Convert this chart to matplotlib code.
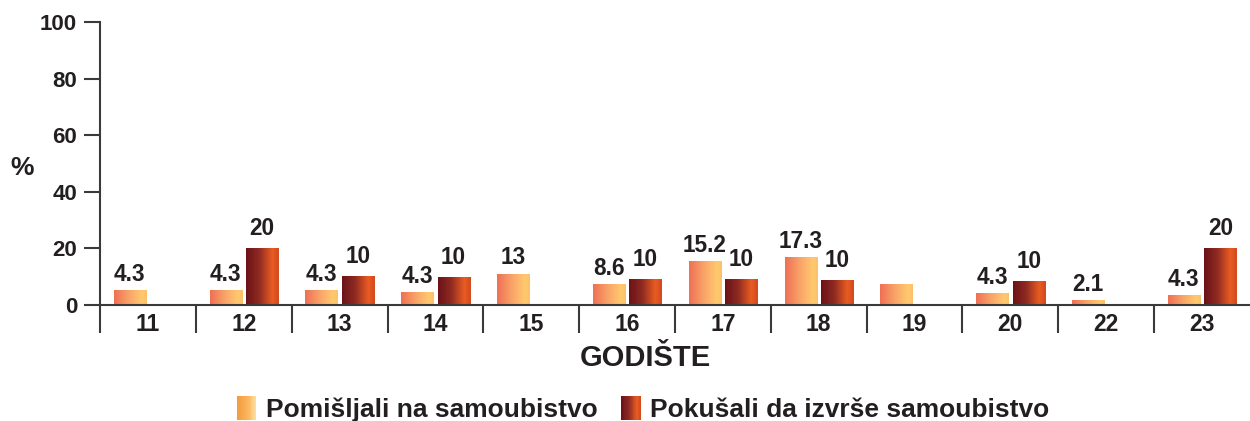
import numpy as np
import matplotlib
matplotlib.use("Agg")
import matplotlib.pyplot as plt
from matplotlib.patches import Rectangle
from matplotlib.legend_handler import HandlerBase
from matplotlib.colors import LinearSegmentedColormap

plt.rcParams['font.family'] = ['Liberation Sans', 'DejaVu Sans']
plt.rcParams['font.weight'] = 'bold'

# ---- data ----
years = ['11', '12', '13', '14', '15', '16', '17', '18', '19', '20', '22', '23']
thought = [5.3, 5.3, 5.3, 4.6, 11.1, 7.5, 15.5, 17.0, 7.5, 4.3, 1.8, 3.5]
thought_labels = ['4.3', '4.3', '4.3', '4.3', '13', '8.6', '15.2', '17.3', '', '4.3', '2.1', '4.3']
attempted = [np.nan, 20, 10.2, 9.9, np.nan, 9.2, 9.2, 8.8, np.nan, 8.5, np.nan, 20]
attempted_labels = ['', '20', '10', '10', '', '10', '10', '10', '', '10', '', '20']
series_names = ['Pomišljali na samoubistvo', 'Pokušali da izvrše samoubistvo']
yticks = [0, 20, 40, 60, 80, 100]

TXT = '#231f20'
light_cmap = LinearSegmentedColormap.from_list(
    'light', [(0.0, '#ef6f55'), (0.45, '#f9a368'), (0.85, '#ffc96e'), (1.0, '#fdc06a')])
dark_cmap = LinearSegmentedColormap.from_list(
    'dark', [(0.0, '#6b1218'), (0.4, '#8e2a22'), (0.8, '#ea5c22'), (1.0, '#cf4a1e')])
leg_light_cmap = LinearSegmentedColormap.from_list(
    'll', [(0.0, '#f39a3a'), (0.6, '#fbb760'), (1.0, '#fde3a8')])

fig = plt.figure(figsize=(12.5, 4.21), dpi=100)
ax = fig.add_axes([0.08, 1 - 305 / 421, 0.92, (305 - 22) / 421])

x = np.arange(len(years))
w = 0.334
off = 0.19

grad = np.linspace(0, 1, 256).reshape(1, -1)


def gradient_bars(xs, vals, cmap):
    bars = ax.bar(xs, vals, w, color='none', edgecolor='none', zorder=2)
    for r in bars:
        h = r.get_height()
        if not np.isfinite(h) or h <= 0:
            continue
        x0 = r.get_x()
        im = ax.imshow(grad, cmap=cmap, aspect='auto', zorder=2,
                       extent=[x0, x0 + r.get_width(), 0, h], interpolation='bilinear')
        im.set_clip_path(r)
    return bars


b1 = gradient_bars(x - off, thought, light_cmap)
b2 = gradient_bars(x + off, attempted, dark_cmap)

VS = 16.3
for r, lab in zip(b1, thought_labels):
    if lab:
        ax.annotate(lab, (r.get_x() + r.get_width() / 2, r.get_height()),
                    xytext=(0, 3), textcoords='offset points', ha='center', va='bottom',
                    fontsize=VS, fontweight='bold', color=TXT)
for r, lab in zip(b2, attempted_labels):
    if lab and np.isfinite(r.get_height()):
        ax.annotate(lab, (r.get_x() + r.get_width() / 2, r.get_height()),
                    xytext=(0, 6), textcoords='offset points', ha='center', va='bottom',
                    fontsize=VS, fontweight='bold', color=TXT)

ax.set_xlim(-0.5, len(years) - 0.5)
ax.set_ylim(0, 100)
ax.set_autoscale_on(False)

for s in ['top', 'right']:
    ax.spines[s].set_visible(False)
for s in ['left', 'bottom']:
    ax.spines[s].set_color('#3a3a3a')
    ax.spines[s].set_linewidth(1.5)

ax.set_yticks(yticks)
ax.set_yticklabels([str(v) for v in yticks])
ax.tick_params(axis='y', direction='out', length=11.5, width=1.5, color='#3a3a3a',
               pad=5, labelsize=16, labelcolor=TXT)
ax.set_xticks(x)
ax.set_xticklabels(years)
ax.set_xticks(np.arange(len(years)) - 0.5, minor=True)
ax.tick_params(axis='x', which='major', length=0, pad=6, labelsize=16.5, labelcolor=TXT)
ax.tick_params(axis='x', which='minor', direction='out', length=20, width=1.5, color='#3a3a3a')
for lab in ax.get_xticklabels() + ax.get_yticklabels():
    lab.set_fontweight('bold')

fig.text(22 / 1250, 1 - 168 / 421, '%', fontsize=19, fontweight='bold', color=TXT,
         ha='center', va='center')
fig.text(645 / 1250, 1 - 358 / 421, 'GODIŠTE', fontsize=21, fontweight='bold', color=TXT,
         ha='center', va='center')


class GradHandler(HandlerBase):
    def __init__(self, cmap, n=24):
        super().__init__()
        self.cmap = cmap
        self.n = n

    def create_artists(self, legend, orig_handle, xdescent, ydescent, width, height,
                       fontsize, trans):
        arts = []
        sw = width / self.n
        for i in range(self.n):
            c = self.cmap((i + 0.5) / self.n)
            arts.append(Rectangle((-xdescent + i * sw, -ydescent), sw * 1.05, height,
                                  facecolor=c, edgecolor='none', transform=trans))
        return arts


h1 = Rectangle((0, 0), 1, 1)
h2 = Rectangle((0, 0), 1, 1)
leg = fig.legend([h1, h2], series_names, loc='center', bbox_to_anchor=(643 / 1250, 1 - 409 / 421),
                 ncol=2, frameon=False, handlelength=0.75, handleheight=1.0, handletextpad=0.35,
                 columnspacing=0.9, borderaxespad=0, borderpad=0,
                 prop={'size': 19, 'weight': 'bold'},
                 handler_map={h1: GradHandler(leg_light_cmap), h2: GradHandler(dark_cmap)})
for t in leg.get_texts():
    t.set_color(TXT)

fig.savefig('out.png', dpi=100)
